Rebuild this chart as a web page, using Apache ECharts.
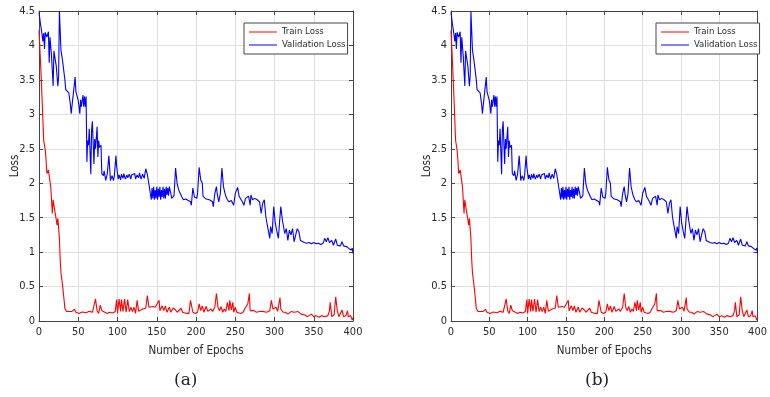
<!DOCTYPE html>
<html>
<head>
<meta charset="utf-8">
<script src="https://cdn.jsdelivr.net/npm/echarts@6/dist/echarts.min.js"></script>
<style>
  html, body { margin: 0; padding: 0; background: #fff; }
  #chart { width: 770px; height: 397px; }
</style>
</head>
<body>
<div id="chart"></div>
<script>
// Epoch numbers and loss values for the training curve
const trainEpochs = [0,2,4,6,8,9,10,12,14,15,17,18,20,22,23,24,25,26,27,28,30,32,33,35,38,42,45,47,51,55,60,64,68,70,72,74,76,78,80,82,84,87,90,94,97,99,100,102,104,105,107,109,111,113,115,117,119,121,123,125,127,129,132,134,136,138,140,142,145,148,150,153,154,157,159,161,163,166,168,171,174,176,178,181,183,185,188,191,193,196,199,202,204,206,208,210,213,215,217,219,221,224,226,228,230,232,234,236,238,240,242,243,245,247,248,250,252,254,257,260,262,264,266,268,269,271,274,277,281,283,285,287,290,294,296,298,300,302,304,307,308,311,314,317,321,325,330,334,338,342,347,350,353,357,360,364,368,370,371,373,376,378,380,382,384,386,388,391,393,394,397,399,400];
const trainLoss = [4.22,3.74,3.2,2.62,2.48,2.34,2.14,2.19,2.17,1.95,1.56,1.76,1.61,1.47,1.39,1.49,1.5,1.2,0.89,0.7,0.52,0.3,0.18,0.14,0.137,0.14,0.17,0.127,0.11,0.13,0.12,0.14,0.127,0.22,0.32,0.15,0.11,0.23,0.15,0.175,0.127,0.11,0.127,0.117,0.137,0.31,0.11,0.32,0.14,0.31,0.14,0.32,0.127,0.31,0.137,0.2,0.137,0.2,0.11,0.3,0.14,0.127,0.175,0.2,0.185,0.37,0.2,0.175,0.21,0.2,0.22,0.3,0.15,0.22,0.15,0.22,0.127,0.2,0.127,0.19,0.16,0.127,0.11,0.185,0.127,0.15,0.11,0.11,0.3,0.127,0.11,0.127,0.25,0.15,0.22,0.127,0.21,0.14,0.15,0.175,0.14,0.2,0.4,0.2,0.15,0.21,0.127,0.175,0.14,0.27,0.15,0.3,0.16,0.27,0.127,0.2,0.127,0.15,0.11,0.127,0.175,0.15,0.25,0.4,0.15,0.127,0.15,0.127,0.137,0.15,0.14,0.16,0.127,0.15,0.3,0.175,0.15,0.2,0.14,0.34,0.175,0.127,0.127,0.1,0.137,0.127,0.137,0.1,0.09,0.063,0.1,0.063,0.078,0.054,0.078,0.063,0.078,0.15,0.27,0.063,0.09,0.35,0.15,0.063,0.078,0.16,0.063,0.078,0.15,0.063,0.078,0.015,0.05];

// Epoch numbers and loss values for the validation curve
const valEpochs = [0,2,3,5,6,7,8,10,12,13,14,16,18,19,22,24,25,26,28,30,33,34,36,38,40,41,42,44,46,47,49,50,52,53,54,56,57,58,59,60,61,62,63,64,66,67,68,70,71,72,74,75,76,77,79,80,82,83,85,87,89,90,91,93,95,96,98,99,101,102,104,105,107,108,110,112,113,115,117,118,120,122,123,125,127,128,130,132,134,136,138,140,142,143,144,145,146,147,148,149,150,151,152,153,154,155,156,157,158,159,160,161,162,163,164,165,166,168,169,171,172,174,176,178,180,182,184,187,190,193,194,196,198,201,202,204,206,208,209,213,217,221,222,224,226,227,229,231,233,235,237,238,240,242,245,248,250,253,255,257,259,261,263,265,267,269,270,272,275,278,281,283,285,287,289,292,294,295,297,299,301,303,305,306,308,310,313,315,317,319,321,323,325,327,329,331,333,335,338,341,344,347,350,353,356,359,362,364,366,368,370,373,375,378,380,384,386,388,392,395,398,399,400];
const valLoss = [4.48,4.3,4.23,4.06,4.18,3.95,4.19,4.12,4.2,3.75,4.12,3.84,3.41,3.92,3.7,3.41,3.55,4.5,3.93,3.78,3.5,3.36,3.34,3.31,3.14,3.01,3.12,3.11,3.54,3.33,3.32,3.2,3.01,3.21,3.11,3.28,3.11,3.26,3.11,3.26,2.31,2.62,2.55,2.79,2.13,2.77,2.9,2.28,2.64,2.5,2.82,2.38,2.62,2.52,2.55,2.14,2.11,2.18,2.04,2.14,2.4,2.23,2.04,2.11,2.04,2.11,2.4,2.23,2.06,2.12,2.05,2.13,2.07,2.14,2.06,2.12,2.08,2.13,2.06,2.12,2.1,2.14,2.06,2.12,2.08,2.15,2.06,2.13,2.07,2.21,2.13,2.12,1.84,1.76,1.93,1.78,1.95,1.76,1.9,1.78,1.95,1.76,1.92,1.8,1.95,1.76,1.9,1.8,1.95,1.78,1.92,1.78,1.95,1.83,1.93,1.82,1.95,1.85,1.78,1.76,1.82,2.22,1.99,1.9,1.85,1.8,1.76,1.77,1.75,1.73,1.68,1.93,1.8,1.78,1.85,2.23,2.05,2.0,1.81,1.77,1.76,1.73,1.66,1.85,1.95,1.85,1.73,1.85,2.22,1.95,1.85,1.81,1.76,1.73,1.75,1.68,1.85,1.94,1.81,1.83,1.73,1.68,1.78,1.76,1.81,1.68,1.83,1.76,1.78,1.76,1.73,1.56,1.71,1.76,1.51,1.32,1.2,1.37,1.27,1.66,1.42,1.3,1.2,1.37,1.66,1.47,1.27,1.34,1.17,1.32,1.25,1.34,1.15,1.25,1.34,1.3,1.17,1.15,1.14,1.13,1.14,1.12,1.14,1.12,1.13,1.11,1.13,1.2,1.15,1.21,1.14,1.17,1.1,1.19,1.1,1.09,1.15,1.09,1.08,1.05,1.03,1.06,0.98];

// Axis ticks
const epochTicks = { min: 0, max: 400, step: 50 };
const lossTicks = { min: 0, max: 4.5, step: 0.5 };
const panelCaptions = ['(a)', '(b)'];
const seriesNames = ['Train Loss', 'Validation Loss'];
const seriesColors = ['#ff0000', '#0000ff'];

const pairs = (xs, ys) => xs.map((x, i) => [x, ys[i]]);
const curves = [pairs(trainEpochs, trainLoss), pairs(valEpochs, valLoss)];

const FONT = '"Liberation Sans Narrow", "DejaVu Sans Condensed", "Liberation Sans", Arial, sans-serif';
const AXIS_COLOR = '#444';
const TEXT_COLOR = '#2a2a2a';
const GRID_COLOR = '#dedede';

const panels = [
  { left: 39, top: 11, width: 314, height: 310, legendLeft: 244, caption: 186 },
  { left: 451, top: 11, width: 314, height: 310, legendLeft: 656, caption: 597 }
];

const grid = [], xAxis = [], yAxis = [], series = [], legend = [], graphic = [];

panels.forEach((p, gi) => {
  grid.push({ left: p.left, top: p.top, width: p.width, height: p.height, containLabel: false });

  const tickCommon = { show: true, inside: true, length: 4, lineStyle: { color: AXIS_COLOR, width: 1 } };
  const lineCommon = { show: true, onZero: false, lineStyle: { color: AXIS_COLOR, width: 1 } };

  xAxis.push({
    type: 'value', gridIndex: gi, position: 'bottom',
    min: epochTicks.min, max: epochTicks.max, interval: epochTicks.step,
    name: 'Number of Epochs', nameLocation: 'middle', nameGap: 24, nameMoveOverlap: false,
    nameTextStyle: { fontFamily: FONT, fontSize: 11.5, color: TEXT_COLOR },
    axisLine: lineCommon, axisTick: tickCommon,
    axisLabel: { fontFamily: FONT, fontSize: 11, color: TEXT_COLOR, margin: 6 },
    splitLine: { show: true, lineStyle: { color: GRID_COLOR, width: 1 } }
  });
  xAxis.push({
    type: 'value', gridIndex: gi, position: 'top',
    min: epochTicks.min, max: epochTicks.max, interval: epochTicks.step,
    axisLine: lineCommon, axisTick: tickCommon,
    axisLabel: { show: false }, splitLine: { show: false }
  });
  yAxis.push({
    type: 'value', gridIndex: gi, position: 'left',
    min: lossTicks.min, max: lossTicks.max, interval: lossTicks.step,
    name: 'Loss', nameLocation: 'middle', nameGap: 18, nameMoveOverlap: false,
    nameTextStyle: { fontFamily: FONT, fontSize: 11.5, color: TEXT_COLOR },
    axisLine: lineCommon, axisTick: tickCommon,
    axisLabel: { fontFamily: FONT, fontSize: 11, color: TEXT_COLOR, margin: 4 },
    splitLine: { show: true, lineStyle: { color: GRID_COLOR, width: 1 } }
  });
  yAxis.push({
    type: 'value', gridIndex: gi, position: 'right',
    min: lossTicks.min, max: lossTicks.max, interval: lossTicks.step,
    axisLine: lineCommon, axisTick: tickCommon,
    axisLabel: { show: false }, splitLine: { show: false }
  });

  seriesNames.forEach((name, si) => {
    series.push({
      name, type: 'line', xAxisIndex: gi * 2, yAxisIndex: gi * 2,
      data: curves[si], showSymbol: false, symbol: 'none', clip: true,
      color: seriesColors[si],
      lineStyle: { color: seriesColors[si], width: 1.1 },
      itemStyle: { color: seriesColors[si] },
      animation: false
    });
  });

  legend.push({
    data: seriesNames.map((name, si) => ({
      name, icon: 'rect', itemStyle: { color: seriesColors[si] }
    })),
    orient: 'vertical',
    left: p.legendLeft, top: 23,
    backgroundColor: '#fff', borderColor: AXIS_COLOR, borderWidth: 1,
    padding: [3, 2, 3, 5], itemGap: 1,
    itemWidth: 28, itemHeight: 1,
    textStyle: { fontFamily: FONT, fontSize: 9.5, color: TEXT_COLOR, lineHeight: 12 },
    selectedMode: false
  });

  graphic.push({
    type: 'text', left: p.caption - 12, top: 372,
    style: { text: panelCaptions[gi], font: '17px "DejaVu Serif", "Liberation Serif", serif', fill: '#222' }
  });
});

const chart = echarts.init(document.getElementById('chart'), null, { renderer: 'canvas' });
chart.setOption({
  animation: false,
  backgroundColor: '#fff',
  color: seriesColors,
  grid, xAxis, yAxis, series, legend, graphic
});
</script>
</body>
</html>
